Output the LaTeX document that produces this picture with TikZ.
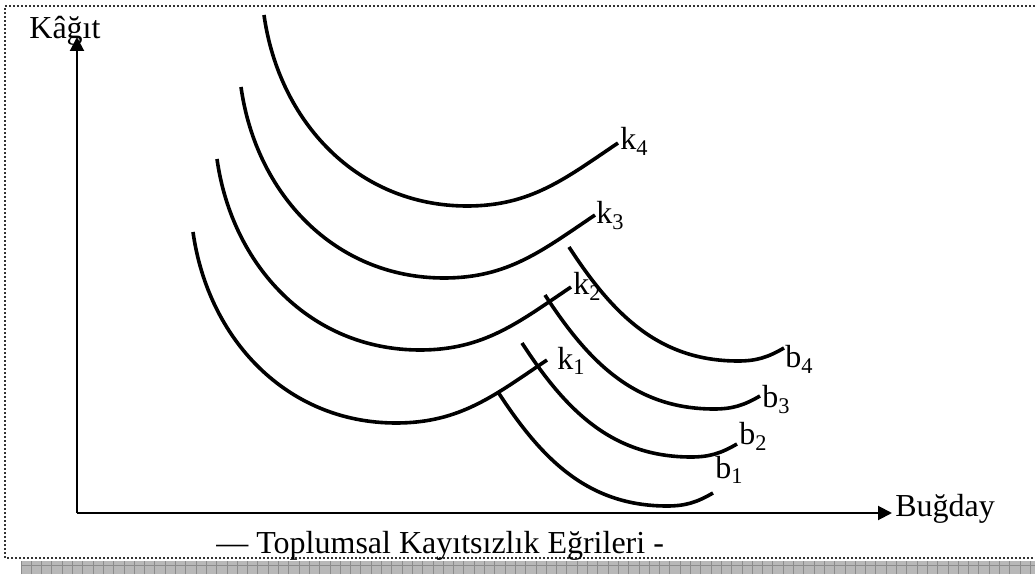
\documentclass[tikz,border=0pt]{standalone}
\usepackage{fontspec}
\setmainfont{Liberation Serif}
\usetikzlibrary{arrows.meta}

\begin{document}
\begin{tikzpicture}[x=0.5pt,y=0.5pt,lbl/.style={font=\fontsize{16}{19}\selectfont,anchor=base west,inner sep=0pt},crv/.style={line width=1.8pt},ax/.style={line width=1pt,-{Triangle[length=7pt,width=7pt]}}]
\useasboundingbox (0,0) rectangle (1035,574);
% frame and grey band
\draw[line width=1pt,dash pattern=on 1pt off 1pt,black!80] (5,16) rectangle (1045,568);
\fill[black!28] (21,0) rectangle (1035,13);
\foreach \x in {21,31.3,...,1035} {\draw[black!45,line width=.5pt] (\x,0)--(\x,13);}
\draw[black!45,line width=.5pt] (21,9)--(1035,9);
% axes
\coordinate (O) at (77,61);
\coordinate (ytip) at (77,537);
\coordinate (xtip) at (892,61);
\draw[ax] (O)--(ytip); \draw[ax] (O)--(xtip);
\node[lbl] (kagit) at (29,535) {Kâğıt};
\node[lbl] (bugday) at (895,58) {Buğday};
% curves
\foreach \sx/\sy/\n in {264/559/4,241/487/3,217/415/2,193/342/1}
  \draw[crv] (\sx,\sy) to[out=-82,in=180] ++(203,-191) to[out=0,in=-146] ++(151,63) coordinate (k\n);
\foreach \sx/\sy/\n in {569/327/4,545/279/3,522/231/2,498/182/1}
  \draw[crv] (\sx,\sy) to[out=-57,in=180] ++(169,-114) to[out=0,in=-150] ++(46,13) coordinate (b\n);
\foreach \v/\i/\x/\y in {k/4/620/424,k/3/596/350,k/2/573/279,k/1/557/205,b/4/785/206,b/3/762/166,b/2/739/129,b/1/715/96}
  \node[lbl] (l\v\i) at (\x,\y) {\v\textsubscript{\i}};
\node[lbl] (caption) at (216,21) {— Toplumsal Kayıtsızlık Eğrileri -};
\end{tikzpicture}
\end{document}
